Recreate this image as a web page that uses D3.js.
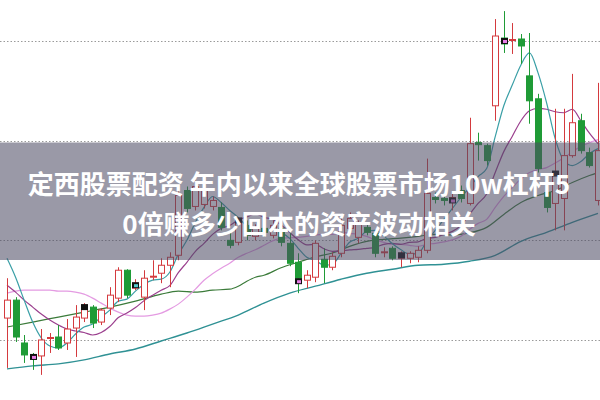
<!DOCTYPE html>
<html><head><meta charset="utf-8">
<script src="https://cdn.jsdelivr.net/npm/d3@7"></script>
<style>html,body{margin:0;padding:0;background:#fff;}svg{display:block;}</style>
</head><body>
<svg id="c" width="600" height="400"></svg>
<script>
const opens  = [4.22,4.40,3.97,3.83,3.84,4.015,4.03,3.97,4.12,4.22,4.33,4.18,4.32,4.42,4.70,4.52,4.43,4.63,4.67,4.75,4.85,5.50,5.34,5.36,5.34,5.33,5.00,4.98,5.15,5.04,5.12,5.05,5.12,4.97,4.78,4.60,4.63,4.81,4.73,4.87,5.12,5.03,5.13,5.07,4.875,4.92,4.82,4.82,4.83,4.90,5.43,5.42,5.40,5.50,5.37,5.98,5.95,6.35,7.03,7.005,7.02,6.65,6.42,5.48,5.37,5.42,5.85,6.20,5.88,5.40];
const closes = [4.40,4.03,3.85,3.81,4.00,4.025,3.92,4.11,4.23,4.35,4.17,4.30,4.45,4.70,4.45,4.57,4.62,4.64,4.75,4.83,5.45,5.32,5.54,5.50,5.40,5.13,4.95,5.18,5.05,5.12,5.08,5.15,4.98,4.77,4.62,4.65,4.97,4.73,4.84,5.15,5.22,5.17,5.08,4.87,4.885,4.82,4.87,4.87,4.90,5.47,5.41,5.40,5.43,5.42,5.97,5.96,5.80,7.05,6.97,7.015,6.95,6.40,5.72,5.33,5.68,5.85,6.18,5.90,5.75,5.90];
const highs  = [4.62,4.43,4.05,3.87,4.11,4.07,4.15,4.21,4.35,4.37,4.35,4.32,4.53,4.73,4.71,4.61,4.70,4.80,4.82,4.88,5.52,5.54,5.60,5.54,5.44,5.38,5.10,5.22,5.20,5.16,5.18,5.20,5.16,5.07,4.87,4.70,5.00,4.92,4.88,5.23,5.28,5.20,5.18,5.09,4.93,4.94,4.89,4.89,4.94,5.82,5.48,5.47,5.48,5.55,6.23,6.08,5.97,7.22,7.30,7.18,7.07,7.08,6.47,5.67,6.32,6.32,6.67,6.27,5.93,6.58];
const lows   = [3.72,3.98,3.77,3.70,3.65,3.87,3.90,3.90,3.83,4.18,4.12,4.15,4.25,4.38,4.42,4.50,4.30,4.60,4.57,4.53,4.80,5.28,5.30,5.32,5.30,5.10,4.92,4.95,5.00,5.00,5.04,5.02,4.94,4.74,4.47,4.52,4.58,4.57,4.70,4.83,5.08,4.97,5.05,4.83,4.83,4.80,4.73,4.77,4.78,4.87,5.37,5.35,5.30,5.38,5.35,5.80,5.75,6.20,6.88,6.87,6.77,6.17,5.68,5.28,5.10,5.10,5.83,5.87,5.73,5.35];

const ma5  = [4.82,4.63,4.40,4.18,4.02,3.94,3.92,3.97,4.06,4.13,4.16,4.23,4.30,4.39,4.41,4.49,4.56,4.60,4.61,4.68,4.86,5.00,5.18,5.33,5.44,5.38,5.30,5.23,5.14,5.09,5.08,5.12,5.08,5.02,4.92,4.83,4.80,4.75,4.76,4.87,4.98,5.02,5.09,5.10,5.045,4.965,4.905,4.863,4.87,4.99,5.10,5.21,5.32,5.43,5.53,5.64,5.72,6.04,6.35,6.56,6.76,6.88,6.68,6.38,6.02,5.80,5.75,5.79,5.87,5.92];
const ma10 = [4.55,4.48,4.40,4.33,4.26,4.20,4.15,4.11,4.09,4.075,4.05,4.075,4.135,4.225,4.27,4.325,4.395,4.45,4.50,4.545,4.675,4.78,4.89,4.97,5.06,5.12,5.15,5.205,5.235,5.265,5.23,5.21,5.155,5.08,5.005,4.955,4.96,4.915,4.89,4.895,4.905,4.91,4.92,4.93,4.96,4.97,4.96,4.98,4.985,5.02,5.03,5.06,5.09,5.15,5.26,5.37,5.465,5.68,5.89,6.045,6.20,6.30,6.325,6.315,6.29,6.28,6.315,6.20,6.075,5.97];
const ma20 = [4.47,4.49,4.50,4.50,4.50,4.50,4.49,4.49,4.48,4.46,4.42,4.37,4.32,4.28,4.25,4.24,4.24,4.25,4.27,4.31,4.36,4.43,4.51,4.60,4.665,4.72,4.77,4.83,4.87,4.905,4.95,4.995,5.02,5.025,5.03,5.04,5.055,5.06,5.06,5.08,5.07,5.06,5.04,5.005,4.98,4.96,4.96,4.95,4.94,4.96,4.97,4.985,5.005,5.04,5.11,5.17,5.21,5.33,5.44,5.53,5.615,5.68,5.71,5.73,5.775,5.825,5.89,5.94,5.98,6.01];
const ma30Idx = [0,3,6,9,12,15,18,20,22,24,26,27,28,29,30,32,34,36,38,40,42,44,46,48,50,52,54,56,58,60,62,64,66,68,69];
const ma30    = [4.13,4.18,4.23,4.28,4.33,4.39,4.46,4.49,4.48,4.50,4.51,4.54,4.59,4.63,4.65,4.725,4.78,4.835,4.873,4.94,4.99,5.01,5.023,5.04,5.06,5.055,5.075,5.13,5.26,5.38,5.45,5.50,5.58,5.65,5.68];
const ma60Idx = [0,3,6,9,12,15,18,21,24,27,30,33,36,39,42,45,48,51,54,57,60,63,66,69];
const ma60    = [3.71,3.74,3.76,3.80,3.86,3.91,3.99,4.07,4.16,4.25,4.37,4.47,4.54,4.61,4.67,4.71,4.75,4.76,4.79,4.85,4.99,5.08,5.18,5.27];

const markIdx  = [3,9,15,27,34,46,52,58,64];
const markVal  = [3.83,4.33,4.55,5.20,4.59,4.85,5.40,7.00,5.67];
const markKind = ["pink","plain","cyan","plain","pink","plain","pink","pink","plain"];

const yTicks = [4,5,6,7];
const title1 = "定西股票配资 年内以来全球股票市场10w杠杆5";
const title2 = "0倍赚多少回本的资产波动相关";

const W = 600, H = 400;
const svg = d3.select("#c");
const n = closes.length;
const xc = d3.scaleLinear().domain([0, n - 1]).range([7, 598]);
const y = d3.scaleLinear().domain([4, 7]).range([340, 41]);

const RED = "#d43a3e", GREEN = "#1f9b36";
const tintColor = {pink: "#e87ee6", cyan: "#58c8cc", plain: null};

// grid
svg.append("g").selectAll("line").data(yTicks).join("line")
  .attr("x1", 0).attr("x2", W)
  .attr("y1", d => Math.round(y(d)) + 0.5).attr("y2", d => Math.round(y(d)) + 0.5)
  .attr("stroke", "#9a9a9a").attr("stroke-width", 1).attr("stroke-dasharray", "1.5,2");

// moving averages
function drawLine(idx, vals, color, w) {
  const pts = idx.map((i, k) => [i, vals[k]]);
  svg.append("path").datum(pts)
    .attr("fill", "none").attr("stroke", color).attr("stroke-width", w)
    .attr("d", d3.line().x(d => xc(d[0])).y(d => y(d[1])).curve(d3.curveMonotoneX));
}
const all = d3.range(n);
drawLine(ma60Idx, ma60, "#2f9194", 1.4);
drawLine(ma30Idx, ma30, "#3b7b3a", 1.2);
drawLine(all, ma20, "#e49be2", 1.2);
drawLine(all, ma10, "#9b3f8e", 1.2);
drawLine(all, ma5, "#3a9fa6", 1.2);

// candles
const bw = 6;
const g = svg.append("g");
all.forEach(i => {
  const o = opens[i], c = closes[i];
  const up = c >= o;
  const col = up ? RED : GREEN;
  const xm = Math.round(xc(i)) + 0.5;
  g.append("line").attr("x1", xm).attr("x2", xm)
    .attr("y1", y(highs[i])).attr("y2", y(lows[i]))
    .attr("stroke", col).attr("stroke-width", 1);
  const top = y(Math.max(o, c)), bot = y(Math.min(o, c));
  g.append("rect").attr("x", xm - bw / 2).attr("y", top)
    .attr("width", bw).attr("height", Math.max(1, bot - top))
    .attr("fill", up ? "#fff" : GREEN).attr("stroke", col).attr("stroke-width", 1);
});

// dark doji markers
markIdx.forEach((i, k) => {
  const xm = Math.round(xc(i)) + 0.5;
  const yy = y(markVal[k]);
  g.append("rect").attr("x", xm - 3.5).attr("y", yy - 3).attr("width", 7).attr("height", 6).attr("fill", "#111");
  const t = tintColor[markKind[k]];
  if (t) g.append("rect").attr("x", xm - 1.5).attr("y", yy - 1).attr("width", 4).attr("height", 3).attr("fill", t);
});

// overlay band
svg.append("rect").attr("x", 0).attr("y", 142.5).attr("width", W).attr("height", 117.5)
  .attr("fill", "rgba(78,75,100,0.57)");

svg.append("g").selectAll("text").data([title1, title2]).join("text")
  .attr("x", 299).attr("y", (d, i) => 182 + i * 40)
  .attr("text-anchor", "middle").attr("dominant-baseline", "central")
  .attr("font-family", "'Noto Sans CJK SC','Noto Sans',sans-serif")
  .attr("font-weight", 700).attr("font-size", 26).attr("fill", "#fff")
  .text(d => d);
</script>
</body></html>
